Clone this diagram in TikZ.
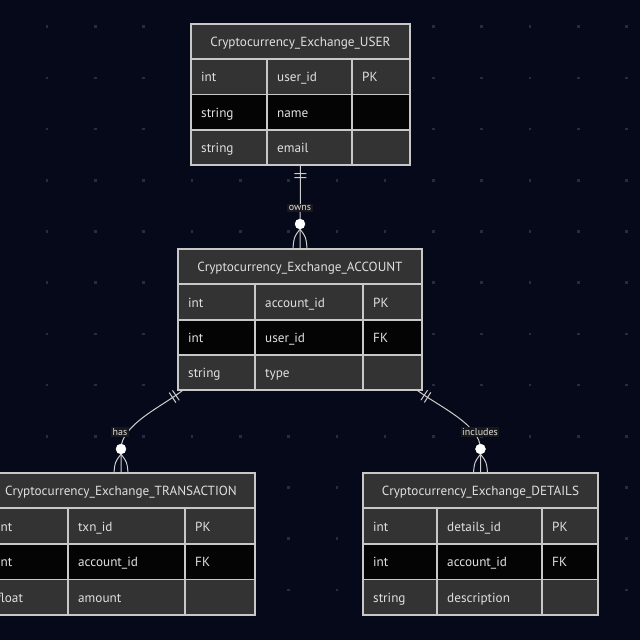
\documentclass[tikz,border=0pt]{standalone}
\usepackage{fontspec}
\setmainfont{PT Sans}
\usetikzlibrary{fit,decorations.markings}

\definecolor{bg}{RGB}{6,9,26}
\definecolor{dotc}{RGB}{40,44,60}
\definecolor{hdr}{RGB}{51,51,51}
\definecolor{rowgrey}{RGB}{51,51,51}
\definecolor{rowblack}{RGB}{4,4,4}
\definecolor{bord}{RGB}{200,200,200}
\definecolor{txt}{RGB}{224,224,224}
\definecolor{edgec}{RGB}{205,205,205}
\definecolor{lblbg}{RGB}{24,24,28}

\tikzset{
  cellbox/.style={draw=bord, line width=1.3pt},
  celltext/.style={anchor=west, inner sep=0pt, text height=11pt, text depth=1pt,
    text=txt, font=\fontsize{13.2}{15}\selectfont},
  titletext/.style={inner sep=0pt, text height=11pt, text depth=1pt,
    text=txt, font=\fontsize{13.2}{15}\selectfont},
  tablebox/.style={draw=bord, line width=1.3pt, inner sep=0pt},
  rel/.style={draw=edgec, line width=1pt},
  onemark/.style={decoration={markings,
      mark=at position 8pt with {\draw[edgec, line width=1pt] (0,-6) -- (0,6);},
      mark=at position 12pt with {\draw[edgec, line width=1pt] (0,-6) -- (0,6);}},
    postaction={decorate}},
  zerodot/.style={circle, fill=white, draw=white, minimum size=10pt, inner sep=0pt},
  foot/.style={draw=edgec, line width=1pt},
  rellabel/.style={fill=lblbg, text=txt, inner sep=1.5pt, font=\fontsize{10}{11}\selectfont},
}

% one header band of a table: prefix, ytop, ybot, title
\newcommand\erhead[4]{%
  \path[cellbox, fill=hdr] (\xa,#2) rectangle (\xd,#3);
  \node[titletext] (#1-title) at ({(\xa+\xd)/2},{(#2+#3)/2}) {#4};
}
% one attribute row: prefix, index, ytop, ybot, fill, type, name, key
\newcommand\errow[8]{%
  \path[cellbox, fill=#5] (\xa,#3) rectangle (\xb,#4);
  \path[cellbox, fill=#5] (\xb,#3) rectangle (\xc,#4);
  \path[cellbox, fill=#5] (\xc,#3) rectangle (\xd,#4);
  \node[celltext] (#1-#2a) at (\xa+10,{(#3+#4)/2}) {#6};
  \node[celltext] (#1-#2b) at (\xb+10,{(#3+#4)/2}) {#7};
  \node[celltext] (#1-#2c) at (\xc+10,{(#3+#4)/2}) {#8};
}

\begin{document}
\begin{tikzpicture}[x=1pt, y=-1pt]
\useasboundingbox (0,0) rectangle (640,640);
\clip (0,0) rectangle (640,640);
\fill[bg] (0,0) rectangle (640,640);

% dotted backdrop
\foreach \i in {0,...,12}
  \foreach \j in {0,...,11}
    \fill[dotc] (47+48.3*\i-1.3, 26.7+51.2*\j-1.3) rectangle ++(2.6,2.6);

% ---------- USER ----------
\def\xa{191}\def\xb{267}\def\xc{352}\def\xd{410}
\erhead{user}{24}{59}{Cryptocurrency\_Exchange\_USER}
\errow{user}{1}{59}{94.5}{rowgrey}{int}{user\_id}{PK}
\errow{user}{2}{94.5}{130}{rowblack}{string}{name}{}
\errow{user}{3}{130}{165}{rowgrey}{string}{email}{}
\node[tablebox, fit={(\xa,24) (\xd,165)}] (user) {};

% ---------- ACCOUNT ----------
\def\xa{178}\def\xb{255}\def\xc{363}\def\xd{422}
\erhead{account}{249}{284}{Cryptocurrency\_Exchange\_ACCOUNT}
\errow{account}{1}{284}{320}{rowgrey}{int}{account\_id}{PK}
\errow{account}{2}{320}{355}{rowblack}{int}{user\_id}{FK}
\errow{account}{3}{355}{390}{rowgrey}{string}{type}{}
\node[tablebox, fit={(\xa,249) (\xd,390)}] (account) {};

% ---------- TRANSACTION ----------
\def\xa{-13}\def\xb{68}\def\xc{185}\def\xd{255}
\erhead{trans}{473}{508}{Cryptocurrency\_Exchange\_TRANSACTION}
\errow{trans}{1}{508}{544}{rowgrey}{int}{txn\_id}{PK}
\errow{trans}{2}{544}{579.5}{rowblack}{int}{account\_id}{FK}
\errow{trans}{3}{579.5}{615}{rowgrey}{float}{amount}{}
\node[tablebox, fit={(\xa,473) (\xd,615)}] (trans) {};

% ---------- DETAILS ----------
\def\xa{363}\def\xb{437}\def\xc{542}\def\xd{598}
\erhead{details}{473}{508}{Cryptocurrency\_Exchange\_DETAILS}
\errow{details}{1}{508}{544}{rowgrey}{int}{details\_id}{PK}
\errow{details}{2}{544}{579.5}{rowblack}{int}{account\_id}{FK}
\errow{details}{3}{579.5}{615}{rowgrey}{string}{description}{}
\node[tablebox, fit={(\xa,473) (\xd,615)}] (details) {};

% ---------- relationships ----------
% USER owns ACCOUNT
\coordinate (o0) at (user.south);
\coordinate (o1) at (account.north);
\path[rel, onemark] (o0) -- (o1);
\node[rellabel] (ownslbl) at (300,208) {owns};
\node[zerodot] (odot) at (300,224) {};
\draw[foot] (odot.south) .. controls (294,237) .. ([xshift=-7pt]o1);
\draw[foot] (odot.south) .. controls (306,237) .. ([xshift=7pt]o1);

% ACCOUNT has TRANSACTION
\coordinate (h0) at ([xshift=5pt]account.south west);
\coordinate (h1) at (121,449);
\path[rel, onemark] (h0) .. controls (161,407) and (121,425) .. (h1) -- (trans.north);
\node[rellabel] (haslbl) at (120,432) {has};
\node[zerodot] (hdot) at (h1) {};
\draw[foot] (hdot.south) .. controls (115,462) .. ([xshift=-7pt]trans.north);
\draw[foot] (hdot.south) .. controls (127,462) .. ([xshift=7pt]trans.north);

% ACCOUNT includes DETAILS
\coordinate (i0) at ([xshift=-5pt]account.south east);
\coordinate (i1) at (480.5,449);
\path[rel, onemark] (i0) .. controls (440,407) and (480.5,425) .. (i1) -- (details.north);
\node[rellabel] (inclbl) at (480,432) {includes};
\node[zerodot] (idot) at (i1) {};
\draw[foot] (idot.south) .. controls (474.5,462) .. ([xshift=-7pt]details.north);
\draw[foot] (idot.south) .. controls (486.5,462) .. ([xshift=7pt]details.north);
\end{tikzpicture}
\end{document}
